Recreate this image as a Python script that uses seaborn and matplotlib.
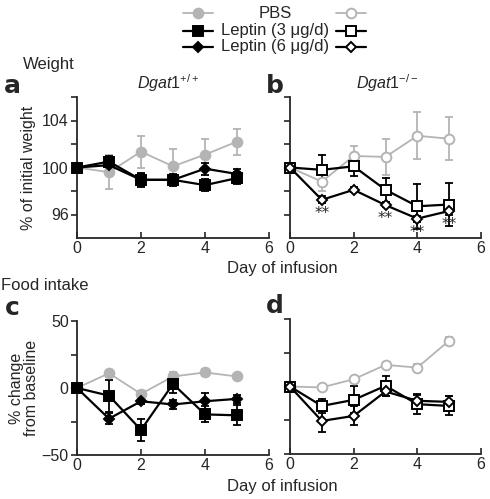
import numpy as np
import pandas as pd
import seaborn as sns
import matplotlib.pyplot as plt
from matplotlib.lines import Line2D

days = [0, 1, 2, 3, 4, 5]
groups = ["PBS", "Leptin (3 μg/d)", "Leptin (6 μg/d)"]

# a: weight, Dgat1+/+
a_pbs = [100, 99.6, 101.35, 100.1, 101.1, 102.2]
a_pbs_se = [0, 1.45, 1.35, 1.5, 1.3, 1.1]
a_lep3 = [100, 100.5, 98.95, 98.95, 98.5, 99.1]
a_lep3_se = [0, 0.5, 0.6, 0.5, 0.5, 0.5]
a_lep6 = [100, 100.2, 98.95, 98.95, 99.9, 99.45]
a_lep6_se = [0, 0.4, 0.5, 0.4, 0.5, 0.45]

# b: weight, Dgat1-/-
b_pbs = [100, 98.8, 100.98, 100.9, 102.7, 102.45]
b_pbs_se = [0, 0.8, 0.85, 1.5, 2.0, 1.85]
b_lep3 = [100, 99.8, 100.1, 98.1, 96.7, 96.85]
b_lep3_se = [0, 1.25, 0.8, 1.0, 1.9, 1.85]
b_lep6 = [100, 97.25, 98.1, 96.8, 95.65, 96.3]
b_lep6_se = [0, 0.3, 0.2, 0.2, 0.25, 0.3]

# c: food intake, Dgat1+/+
c_pbs = [0, 11, -4.4, 8.6, 11.6, 8.6]
c_pbs_se = [0, 2.5, 2, 3, 2.5, 2]
c_lep3 = [0, -5.7, -31.3, 3, -19.7, -20.4]
c_lep3_se = [0, 12, 8.5, 7, 6, 7.5]
c_lep6 = [0, -22.9, -9.9, -12.3, -9.9, -8.1]
c_lep6_se = [0, 4, 2, 3, 6, 3]

# d: food intake, Dgat1-/-
d_pbs = [0, -0.7, 5.4, 16, 14, 34]
d_pbs_se = [0, 2, 2, 2.5, 2.5, 3]
d_lep3 = [0, -14.4, -9.9, 0.5, -13.1, -14.4]
d_lep3_se = [0, 5, 10, 7.5, 7, 7]
d_lep6 = [0, -25.5, -21.8, -3.7, -10.6, -11.4]
d_lep6_se = [0, 8.5, 7, 3, 5, 4.5]

# days with significance marks in b
b_stars = [1, 3, 4, 5]

GRAY = "#b4b4b4"
colors = [GRAY, "black", "black"]
markers = ["o", "s", "D"]
msizes = [7, 7.5, 5.5]
lwidths = [1.3, 1.6, 1.6]

sns.set_style("ticks")
plt.rcParams["font.family"] = ["Liberation Sans", "DejaVu Sans"]
plt.rcParams["font.size"] = 11.5
plt.rcParams["mathtext.fontset"] = "custom"
plt.rcParams["mathtext.it"] = "Liberation Sans:italic"
plt.rcParams["mathtext.rm"] = "Liberation Sans"


def long_df(vals, ses):
    # three rows per day (mean-se, mean, mean+se) -> mean estimator, range errorbar
    rows = []
    for d, v, s in zip(days, vals, ses):
        for y in (v - s, v, v + s):
            rows.append({"day": d, "value": y})
    return pd.DataFrame(rows)


def draw_panel(ax, series, open_marker):
    for i, (vals, ses) in enumerate(series):
        sns.lineplot(data=long_df(vals, ses), x="day", y="value", ax=ax,
                     estimator="mean", errorbar=lambda v: (v.min(), v.max()),
                     err_style="bars", color=colors[i], marker=markers[i],
                     markersize=msizes[i], linewidth=lwidths[i],
                     markeredgecolor=colors[i], markeredgewidth=1.4,
                     markerfacecolor="white" if open_marker else colors[i],
                     clip_on=False, zorder=3 + i,
                     err_kws={"capsize": 3, "elinewidth": 1.3, "capthick": 1.3,
                              "zorder": 1 + i * 0.1, "clip_on": False})
    ax.set_xlim(0, 6)
    ax.set_xticks([0, 2, 4, 6])
    ax.set_xlabel("")
    ax.set_ylabel("")
    sns.despine(ax=ax)
    ax.tick_params(axis="x", direction="in", length=4, width=1.2, pad=2)
    ax.tick_params(axis="y", direction="out", length=4, width=1.2, pad=2)
    for sp in ax.spines.values():
        sp.set_linewidth(1.3)


W, H = 490, 499
fig = plt.figure(figsize=(W / 100, H / 100), dpi=100)


def px_axes(l, t, r, b):
    return fig.add_axes([l / W, 1 - b / H, (r - l) / W, (b - t) / H])


ax_a = px_axes(77, 97, 269, 238)
ax_b = px_axes(290, 97, 481, 238)
ax_c = px_axes(77, 321, 269, 455)
ax_d = px_axes(290, 319, 481, 454)

draw_panel(ax_a, [(a_pbs, a_pbs_se), (a_lep3, a_lep3_se), (a_lep6, a_lep6_se)], False)
draw_panel(ax_b, [(b_pbs, b_pbs_se), (b_lep3, b_lep3_se), (b_lep6, b_lep6_se)], True)
draw_panel(ax_c, [(c_pbs, c_pbs_se), (c_lep3, c_lep3_se), (c_lep6, c_lep6_se)], False)
draw_panel(ax_d, [(d_pbs, d_pbs_se), (d_lep3, d_lep3_se), (d_lep6, d_lep6_se)], True)

for ax, show in [(ax_a, True), (ax_b, False)]:
    ax.set_ylim(94, 106)
    ax.set_yticks([96, 98, 100, 102, 104, 106])
    ax.set_yticklabels(["96", "", "100", "", "104", ""] if show else [""] * 6)
for ax, show in [(ax_c, True), (ax_d, False)]:
    ax.set_ylim(-50, 50)
    ax.set_yticks([-50, -25, 0, 25, 50])
    ax.set_yticklabels(["\u221250", "", "0", "", "50"] if show else [""] * 5)

for d in b_stars:
    y = b_lep6[days.index(d)]
    ax_b.annotate("**", (d, y), xytext=(0, -4.5), textcoords="offset points",
                  ha="center", va="top", fontsize=11, family="DejaVu Sans",
                  zorder=10)

# y labels
ax_a.set_ylabel("% of initial weight", labelpad=4)
ax_c.set_ylabel("% change\nfrom baseline", labelpad=2, linespacing=1.0)

# figure texts
def ftxt(x, y, s, **kw):
    fig.text(x / W, 1 - y / H, s, **kw)

ftxt(282, 268, "Day of infusion", ha="center", va="center", fontsize=12)
ftxt(282, 487, "Day of infusion", ha="center", va="center", fontsize=12)
ftxt(23, 65, "Weight", ha="left", va="center", fontsize=12)
ftxt(1, 286, "Food intake", ha="left", va="center", fontsize=12)
ftxt(4, 93, "a", ha="left", va="baseline", fontsize=18, fontweight="bold", family="DejaVu Sans")
ftxt(266, 93, "b", ha="left", va="baseline", fontsize=18, fontweight="bold", family="DejaVu Sans")
ftxt(5, 315, "c", ha="left", va="baseline", fontsize=18, fontweight="bold", family="DejaVu Sans")
ftxt(266, 313, "d", ha="left", va="baseline", fontsize=18, fontweight="bold", family="DejaVu Sans")
ftxt(168, 83, r"$\mathit{Dgat1}^{\mathit{+/+}}$", ha="center", va="center", fontsize=11.5)
ftxt(387, 83, r"$\mathit{Dgat1}^{\mathit{-/-}}$", ha="center", va="center", fontsize=11.5)

# legend, drawn by hand in the top centre
leg_rows = [13, 31, 47]
for i, name in enumerate(groups):
    yy = 1 - leg_rows[i] / H
    ftxt(275, leg_rows[i], name, ha="center", va="center", fontsize=12)
    for x0, x1, filled in [(183, 213, True), (336, 366, False)]:
        fig.add_artist(Line2D([x0 / W, (x0 + x1) / 2 / W, x1 / W], [yy, yy, yy],
                              transform=fig.transFigure, color=colors[i],
                              linewidth=lwidths[i], marker=markers[i], markevery=[1],
                              markersize=msizes[i], markeredgewidth=1.4,
                              markeredgecolor=colors[i],
                              markerfacecolor=colors[i] if filled else "white"))

fig.savefig("out.png", dpi=100)
